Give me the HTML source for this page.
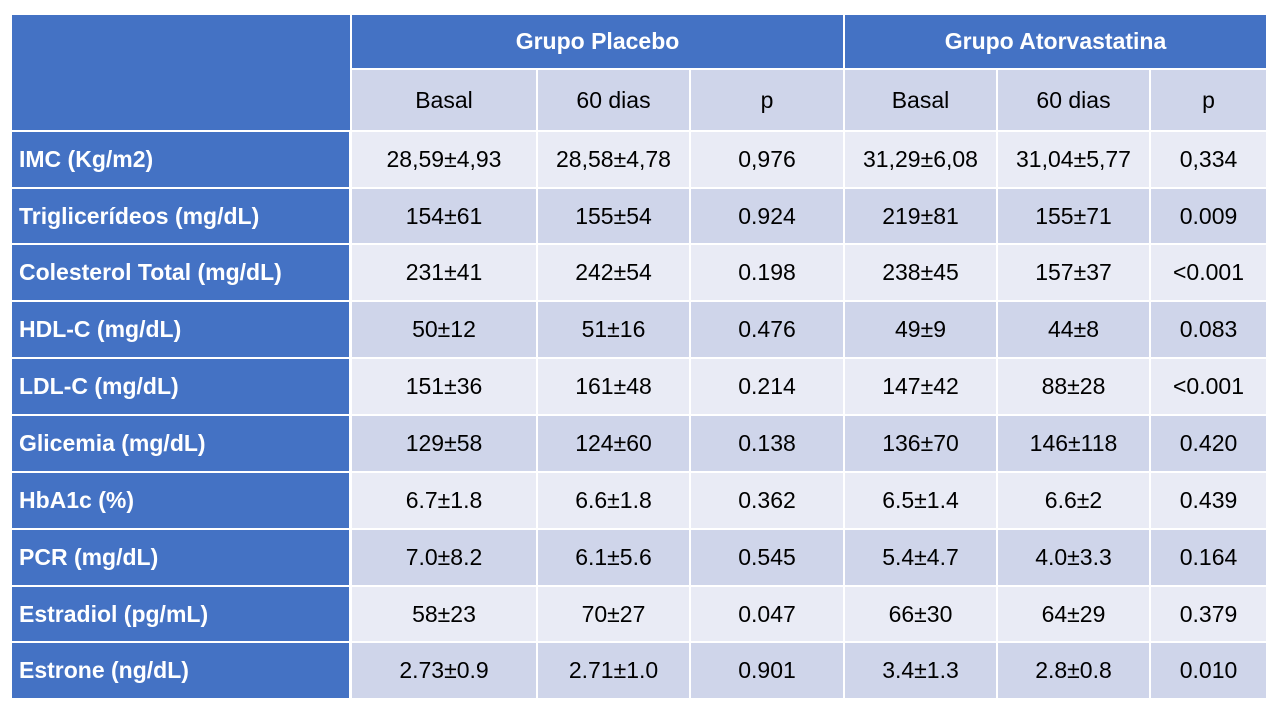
<!DOCTYPE html>
<html><head><meta charset="utf-8"><style>
body{margin:0;width:1280px;height:720px;background:#fff;font-family:"Liberation Sans",sans-serif;position:relative;overflow:hidden}
.c{position:absolute;box-sizing:border-box;display:flex;align-items:center;justify-content:center;font-size:23px;color:#000;border-right:2px solid #fff;border-bottom:2px solid #fff}
.h{background:#4472C4;color:#fff;font-weight:bold}
.l{background:#4472C4;color:#fff;font-weight:bold;justify-content:flex-start;padding-left:7px;border-right:3px solid #fff}
.d{background:#CFD5EA}.e{background:#E9EBF5}
</style></head><body>
<div id="t"></div>
<script>
const colX=[12,352,538,691,845,998,1151,1268];
const rowY=[15,70,132,189,245,302,359,416,473,530,587,643,700];
const labels=["IMC (Kg/m2)","Triglicerídeos (mg/dL)","Colesterol Total (mg/dL)","HDL-C (mg/dL)","LDL-C (mg/dL)","Glicemia (mg/dL)","HbA1c (%)","PCR (mg/dL)","Estradiol (pg/mL)","Estrone (ng/dL)"];
const values=[
["28,59±4,93","28,58±4,78","0,976","31,29±6,08","31,04±5,77","0,334"],
["154±61","155±54","0.924","219±81","155±71","0.009"],
["231±41","242±54","0.198","238±45","157±37","<0.001"],
["50±12","51±16","0.476","49±9","44±8","0.083"],
["151±36","161±48","0.214","147±42","88±28","<0.001"],
["129±58","124±60","0.138","136±70","146±118","0.420"],
["6.7±1.8","6.6±1.8","0.362","6.5±1.4","6.6±2","0.439"],
["7.0±8.2","6.1±5.6","0.545","5.4±4.7","4.0±3.3","0.164"],
["58±23","70±27","0.047","66±30","64±29","0.379"],
["2.73±0.9","2.71±1.0","0.901","3.4±1.3","2.8±0.8","0.010"]];
const subHeaders=["Basal","60 dias","p","Basal","60 dias","p"];
const t=document.getElementById('t');
function cell(x1,x2,y1,y2,cls,txt,name){
 const d=document.createElement('div');d.className='c '+cls;
 d.style.left=x1+'px';d.style.top=y1+'px';d.style.width=(x2-x1)+'px';d.style.height=(y2-y1)+'px';
 d.textContent=txt;
 
 
 t.appendChild(d);}
cell(colX[0],colX[1],rowY[0],rowY[2],'h','', 'corner-header');
cell(colX[1],colX[4],rowY[0],rowY[1],'h','Grupo Placebo','group-placebo-header');
cell(colX[4],colX[7],rowY[0],rowY[1],'h','Grupo Atorvastatina','group-atorvastatina-header');
subHeaders.forEach((s,i)=>cell(colX[i+1],colX[i+2],rowY[1],rowY[2],'d',s,'subheader-'+i));
labels.forEach((lab,r)=>{
 cell(colX[0],colX[1],rowY[r+2],rowY[r+3],'l',lab,'row-label');
 values[r].forEach((v,i)=>cell(colX[i+1],colX[i+2],rowY[r+2],rowY[r+3],r%2?'d':'e',v,'value-cell'));
});
</script>
</body></html>
